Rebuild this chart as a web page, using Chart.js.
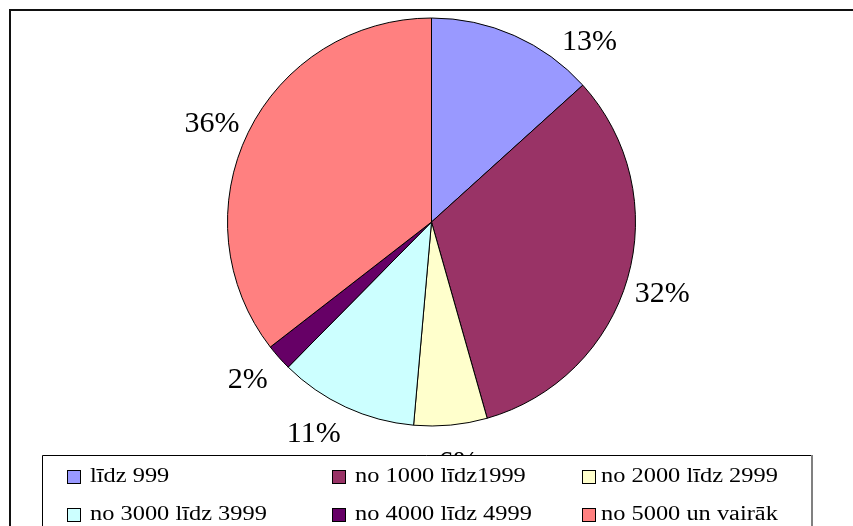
<!DOCTYPE html>
<html>
<head>
<meta charset="utf-8">
<script src="https://cdn.jsdelivr.net/npm/chart.js@4/dist/chart.umd.min.js"></script>
<style>
  body { margin: 0; background: #fff; overflow: hidden; }
</style>
</head>
<body>
<canvas id="myChart" width="853" height="526"></canvas>
<script>
// data (shares in %)
let categories = ['līdz 999', 'no 1000 līdz1999', 'no 2000 līdz 2999', 'no 3000 līdz 3999', 'no 4000 līdz 4999', 'no 5000 un vairāk']
let shares = [13.3, 32.3, 5.8, 11.0, 2.1, 35.5]
let sliceColors = ['#9999FF', '#993366', '#FFFFCC', '#CCFFFF', '#660066', '#FF8080']

// small angle nudges (degrees) for the percent labels, like the original
let labelNudge = [17, 0.8, -1, 4.4, 1.3, -1.7]

let serif = '"Liberation Serif", "Times New Roman", serif'

let framePlugin = {
    id: 'frame',
    beforeDraw(chart) {
        let c = chart.ctx
        c.save()
        c.fillStyle = '#fff'
        c.fillRect(0, 0, chart.width, chart.height)
        c.strokeStyle = '#111'
        c.lineWidth = 2
        c.beginPath()
        c.moveTo(10, chart.height + 5)
        c.lineTo(10, 10)
        c.lineTo(chart.width + 5, 10)
        c.stroke()
        c.restore()
    }
}

let percentPlugin = {
    id: 'percents',
    afterDatasetsDraw(chart) {
        let c = chart.ctx
        let meta = chart.getDatasetMeta(0)
        let total = shares.reduce((a, b) => a + b, 0)
        c.save()
        c.font = '30px ' + serif
        c.fillStyle = '#000'
        c.textAlign = 'center'
        c.textBaseline = 'middle'
        meta.data.forEach((arc, i) => {
            let p = arc.getProps(['x', 'y', 'startAngle', 'endAngle', 'outerRadius'], true)
            let mid = (p.startAngle + p.endAngle) / 2 + labelNudge[i] * Math.PI / 180
            let r = p.outerRadius + 37
            let txt = Math.round(shares[i] / total * 100) + '%'
            c.fillText(txt, p.x + Math.cos(mid) * r, p.y + Math.sin(mid) * r + 2)
        })
        c.restore()
    }
}

let legendPlugin = {
    id: 'boxLegend',
    afterDraw(chart) {
        let c = chart.ctx
        let colX = [67, 332, 582]
        let textX = [90, 355, 601]
        let rowY = [470, 508]
        c.save()
        // legend box (covers the bottom label like the original)
        c.fillStyle = '#fff'
        c.fillRect(42, 455, 770, 80)
        c.strokeStyle = '#000'
        c.lineWidth = 1
        c.beginPath()
        c.moveTo(42.5, 535)
        c.lineTo(42.5, 455.5)
        c.lineTo(811, 455.5)
        c.stroke()
        c.strokeStyle = '#808080'
        c.lineWidth = 2
        c.beginPath()
        c.moveTo(812, 455)
        c.lineTo(812, 535)
        c.stroke()

        chart.data.labels.forEach((lab, i) => {
            let x = colX[i % 3]
            let y = rowY[Math.floor(i / 3)]
            c.fillStyle = chart.data.datasets[0].backgroundColor[i]
            c.fillRect(x, y, 13, 13)
            c.strokeStyle = '#000'
            c.lineWidth = 1
            c.strokeRect(x + 0.5, y + 0.5, 13, 13)
            c.save()
            c.translate(textX[i % 3], y + 7)
            c.scale(1.22, 1)
            c.font = '20px ' + serif
            c.fillStyle = '#000'
            c.textBaseline = 'middle'
            c.fillText(lab, 0, 0)
            c.restore()
        })
        c.restore()
    }
}

let ctx = document.querySelector('#myChart')

let graphData = {
    type: 'pie',
    data: {
        labels: categories,
        datasets: [{
            data: shares,
            backgroundColor: sliceColors,
            borderColor: '#000',
            borderWidth: 1
        }]
    },
    options: {
        responsive: false,
        animation: false,
        radius: 204,
        layout: { padding: { top: 18, bottom: 100, left: 227, right: 217 } },
        plugins: {
            legend: { display: false },
            tooltip: { enabled: false }
        }
    },
    plugins: [framePlugin, percentPlugin, legendPlugin]
}

let myChart = new Chart(ctx, graphData)
</script>
</body>
</html>
